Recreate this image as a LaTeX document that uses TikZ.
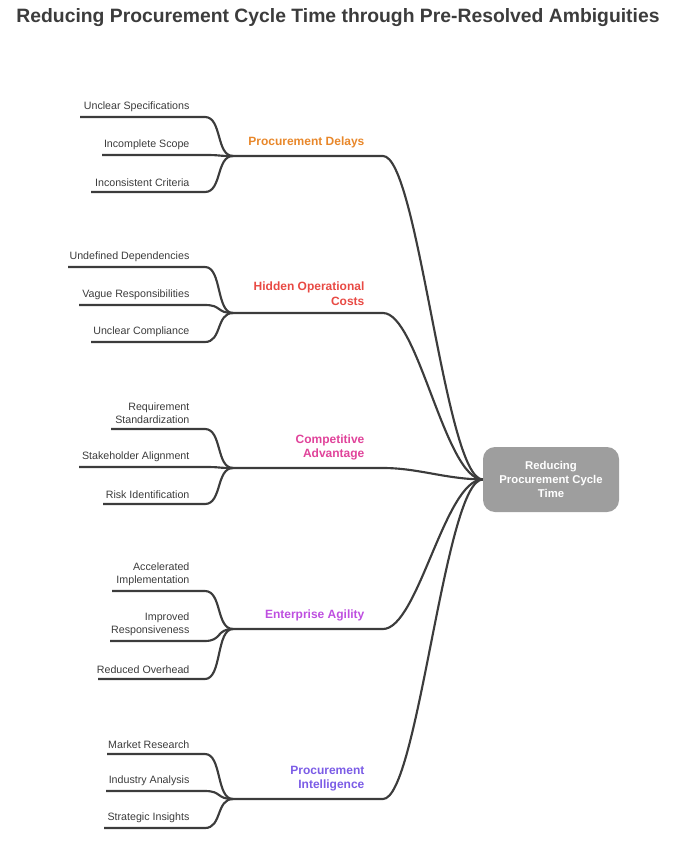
\documentclass[tikz,border=0pt]{standalone}
\usepackage{fontspec}
\setmainfont{Liberation Sans}
\definecolor{cOr}{HTML}{E8872A}
\definecolor{cRd}{HTML}{E84A44}
\definecolor{cPk}{HTML}{E0439A}
\definecolor{cMg}{HTML}{BE4FE0}
\definecolor{cVi}{HTML}{7B5CE6}
\definecolor{cLn}{HTML}{3C3C3C}
\definecolor{cCt}{HTML}{9E9E9E}
\tikzset{
 conn/.style={draw=cLn,line width=1.6pt},
 leaftxt/.style={anchor=south east,inner sep=1pt,align=right,font=\fontsize{8}{9.5}\selectfont,text=cLn},
 cattxt/.style={anchor=south east,inner sep=1pt,align=right,font=\fontsize{9}{11}\selectfont\bfseries},
}
% #1 name, #2 left x, #3 line y, #4 text, #5 hub name
\newcommand\myleaf[5]{%
 \coordinate (#1s) at (#2,#3);
 \coordinate (#1e) at (205,#3);
 \node[leaftxt] (#1) at (191,#3-4) {#4};
 \draw[conn] (#1s) -- (#1e) .. controls (222,#3) and (216,\csname hy#5\endcsname) .. (#5);
}
% #1 name, #2 hub y, #3 color, #4 text
\newcommand\mycat[4]{%
 \expandafter\def\csname hy#1\endcsname{#2}%
 \coordinate (#1) at (233,#2);
 \coordinate (#1e) at (383,#2);
 \node[cattxt,text=#3] (#1t) at (366,#2-6) {#4};
 \draw[conn] (#1) -- (#1e) .. controls (418,#2) and (445,479) .. (ctr.west);
}
\begin{document}
\begin{tikzpicture}[x=0.75pt,y=-0.75pt]
\useasboundingbox (0,0) rectangle (677,855);
\node[font=\fontsize{14.5}{17}\selectfont\bfseries,text=cLn] (title) at (338,18) {Reducing Procurement Cycle Time through Pre-Resolved Ambiguities};
\node[fill=cCt,rounded corners=9pt,minimum width=136*0.75pt,minimum height=65*0.75pt,align=center,text=white,font=\fontsize{8.5}{10.5}\selectfont\bfseries] (ctr) at (551,479.5) {Reducing\\Procurement Cycle\\Time};
\mycat{ca}{156}{cOr}{Procurement Delays}
\mycat{cb}{313}{cRd}{Hidden Operational\\Costs}
\mycat{cc}{468}{cPk}{Competitive\\Advantage}
\mycat{cd}{629}{cMg}{Enterprise Agility}
\mycat{ce}{799}{cVi}{Procurement\\Intelligence}
\myleaf{a1}{80}{117}{Unclear Specifications}{ca}
\myleaf{a2}{102}{155}{Incomplete Scope}{ca}
\myleaf{a3}{91}{192}{Inconsistent Criteria}{ca}
\myleaf{b1}{68}{267}{Undefined Dependencies}{cb}
\myleaf{b2}{79}{305}{Vague Responsibilities}{cb}
\myleaf{b3}{91}{342}{Unclear Compliance}{cb}
\myleaf{c1}{111}{429}{Requirement\\Standardization}{cc}
\myleaf{c2}{79}{467}{Stakeholder Alignment}{cc}
\myleaf{c3}{103}{504}{Risk Identification}{cc}
\myleaf{d1}{112}{591}{Accelerated\\Implementation}{cd}
\myleaf{d2}{110}{641}{Improved\\Responsiveness}{cd}
\myleaf{d3}{98}{679}{Reduced Overhead}{cd}
\myleaf{e1}{107}{754}{Market Research}{ce}
\myleaf{e2}{106}{791}{Industry Analysis}{ce}
\myleaf{e3}{104}{828}{Strategic Insights}{ce}
\end{tikzpicture}
\end{document}
